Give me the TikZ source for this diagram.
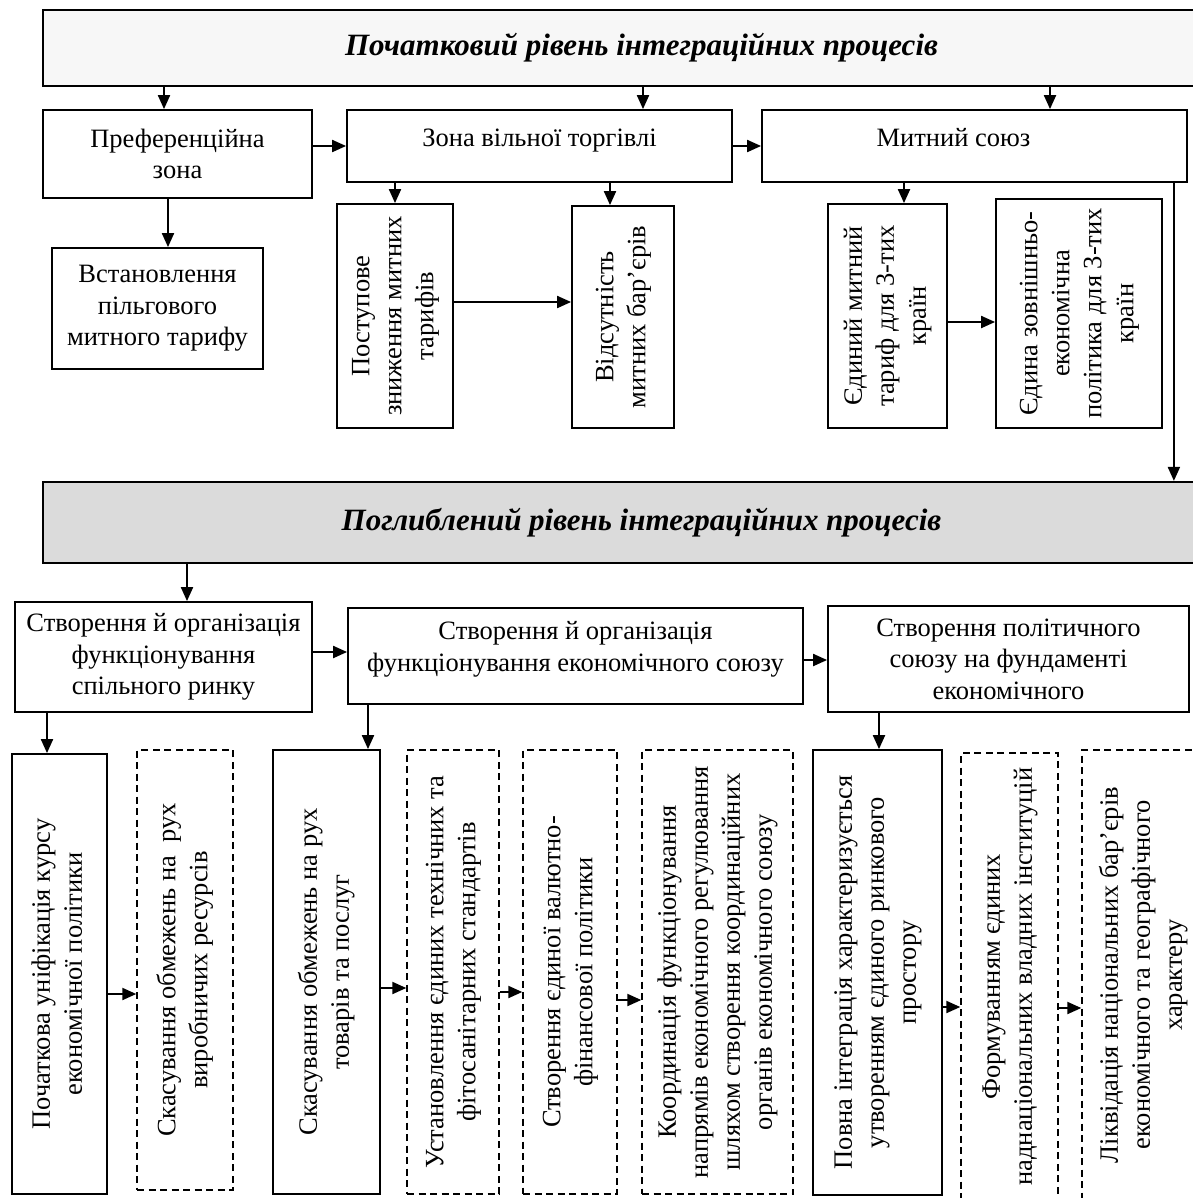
\documentclass[tikz,border=0pt]{standalone}
\usepackage{fontspec}
\setmainfont{Liberation Serif}
\usetikzlibrary{arrows.meta}
\newcommand\rotlines[1]{\rotatebox{90}{\begin{tabular}{@{}c@{}}#1\end{tabular}}}
\begin{document}
\begin{tikzpicture}[x=1bp,y=-1bp,
  box/.style={draw, line width=1.8bp, inner sep=0pt, align=center, fill=white,
    font=\fontsize{26.5bp}{31.5bp}\selectfont},
  vbox/.style={draw, line width=1.8bp, inner sep=0pt, fill=white,
    font=\fontsize{26.5bp}{32bp}\selectfont},
  dbox/.style={vbox, line width=1.4bp, dash pattern=on 7bp off 4.5bp},
  banner/.style={draw, line width=2.2bp, inner sep=0pt,
    font=\fontsize{31bp}{36bp}\selectfont\bfseries\itshape},
  arr/.style={line width=2bp, -{Triangle[length=14bp,width=12bp]}},
]
\useasboundingbox (0,0) rectangle (1193,1198);

% ---- initial level ----
\node[banner, fill=black!3, minimum width=1197bp, minimum height=76bp] (T1) at (641.5,48)
  {Початковий рівень інтеграційних процесів};

\node[box, minimum width=269bp, minimum height=88bp] (A) at (177.5,154) {Преференційна\\зона};
\node[box, minimum width=385bp, minimum height=72bp] (B) at (539.5,146) {\smash{Зона вільної торгівлі}};
\node[box, minimum width=425bp, minimum height=72bp] (C) at (974.5,146) {\smash{\hspace*{-42bp}Митний союз}};

\node[box, minimum width=211bp, minimum height=121bp] (D) at (157.5,308.5)
  {Встановлення\\пільгового\\митного тарифу};
\node[vbox, minimum width=116bp, minimum height=224bp] (E) at (395,316)
  {\rotlines{Поступове\\зниження митних\\тарифів}};
\node[vbox, minimum width=102bp, minimum height=222bp] (F) at (623,317)
  {\rotlines{Відсутність\\митних бар’єрів}};
\node[vbox, minimum width=119bp, minimum height=224bp] (G) at (887.5,316)
  {\rotlines{Єдиний митний\\тариф для 3-тих\\країн}};
\node[vbox, minimum width=166bp, minimum height=229bp] (H) at (1079,313.5)
  {\rotlines{Єдина зовнішньо-\\економічна\\політика для 3-тих\\країн}};

\draw[arr] ([xshift=-13.5bp]A.north |- T1.south) -- ([xshift=-13.5bp]A.north);
\draw[arr] ([xshift=103.5bp]B.north |- T1.south) -- ([xshift=103.5bp]B.north);
\draw[arr] ([xshift=75.5bp]C.north |- T1.south) -- ([xshift=75.5bp]C.north);
\draw[arr] (A.east |- B.west) -- (B.west);
\draw[arr] (B.east) -- (C.west);
\draw[arr] ([xshift=10.5bp]D.north |- A.south) -- ([xshift=10.5bp]D.north);
\draw[arr] (E.north |- B.south) -- (E.north);
\draw[arr] ([xshift=-13bp]F.north |- B.south) -- ([xshift=-13bp]F.north);
\draw[arr] ([yshift=14bp]E.east) -- ([yshift=14bp]E.east -| F.west);
\draw[arr] ([xshift=16.5bp]G.north |- C.south) -- ([xshift=16.5bp]G.north);
\draw[arr] ([yshift=-6bp]G.east) -- ([yshift=-6bp]G.east -| H.west);

% ---- deep level ----
\node[banner, fill=black!14, minimum width=1197bp, minimum height=81bp] (P) at (641.5,522.5)
  {Поглиблений рівень інтеграційних процесів};
\draw[arr] ([xshift=-14bp]C.south east) -- ([xshift=-14bp]C.south east |- P.north);

\node[box, minimum width=297bp, minimum height=110bp] (I) at (163.5,657)
  {Створення й організація\\функціонування\\спільного ринку};
\node[box, minimum width=455bp, minimum height=96bp] (J) at (575.5,656)
  {Створення й організація\\функціонування економічного союзу\\[-12bp]\mbox{}};
\node[box, minimum width=361bp, minimum height=106bp] (K) at (1008.5,659)
  {Створення політичного\\союзу на фундаменті\\економічного};

\draw[arr] ([xshift=23.5bp]I.north |- P.south) -- ([xshift=23.5bp]I.north);
\draw[arr] ([yshift=5bp]I.east) -- ([yshift=5bp]I.east -| J.west);
\draw[arr] ([yshift=-4bp]J.east) -- ([yshift=-4bp]J.east -| K.west);

\node[vbox, minimum width=95bp, minimum height=440bp] (b1) at (59.5,974)
  {\rotlines{Початкова уніфікація курсу\\економічної політики}};
\node[dbox, minimum width=96bp, minimum height=440bp] (b2) at (185,970)
  {\rotlines{Скасування обмежень на\ \ рух\\виробничих ресурсів}};
\node[vbox, minimum width=107bp, minimum height=444bp] (b3) at (326.5,972)
  {\rotlines{Скасування обмежень на рух\\товарів та послуг}};
\node[dbox, minimum width=92bp, minimum height=444bp] (b4) at (453,972)
  {\rotlines{Установлення єдиних технічних та\\фітосанітарних стандартів}};
\node[dbox, minimum width=94bp, minimum height=444bp] (b5) at (570,972)
  {\rotlines{Створення єдиної валютно-\\фінансової політики}};
\node[dbox, minimum width=151bp, minimum height=444bp] (b6) at (717.5,972)
  {\rotlines{Координація функціонування\\напрямів економічного регулювання\\шляхом створення координаційних\\органів економічного союзу}};
\node[vbox, minimum width=129bp, minimum height=445bp] (b7) at (877.5,972.5)
  {\rotlines{Повна інтеграція характеризується\\утворенням єдиного ринкового\\простору}};
\node[dbox, minimum width=97bp, minimum height=447bp] (b8) at (1009.5,976.5)
  {\rotlines{Формуванням єдиних\\наднаціональних владних інституцій}};
\node[dbox, minimum width=123bp, minimum height=450bp] (b9) at (1143.5,975)
  {\rotlines{Ліквідація національних бар’єрів\\економічного та географічного\\характеру}};

\draw[arr] ([xshift=-12.5bp]b1.north |- I.south) -- ([xshift=-12.5bp]b1.north);
\draw[arr] ([xshift=41.5bp]b3.north |- J.south) -- ([xshift=41.5bp]b3.north);
\draw[arr] ([xshift=1.5bp]b7.north |- K.south) -- ([xshift=1.5bp]b7.north);

\draw[arr] ([yshift=-20bp]b1.east) -- ([yshift=-20bp]b1.east -| b2.west);
\draw[arr] ([yshift=-16bp]b3.east) -- ([yshift=-16bp]b3.east -| b4.west);
\draw[arr] ([yshift=-20bp]b4.east) -- ([yshift=-20bp]b4.east -| b5.west);
\draw[arr] ([yshift=-28bp]b5.east) -- ([yshift=-28bp]b5.east -| b6.west);
\draw[arr] ([yshift=-34.5bp]b7.east) -- ([yshift=-34.5bp]b7.east -| b8.west);
\draw[arr] ([yshift=-31.5bp]b8.east) -- ([yshift=-31.5bp]b8.east -| b9.west);
\end{tikzpicture}
\end{document}
